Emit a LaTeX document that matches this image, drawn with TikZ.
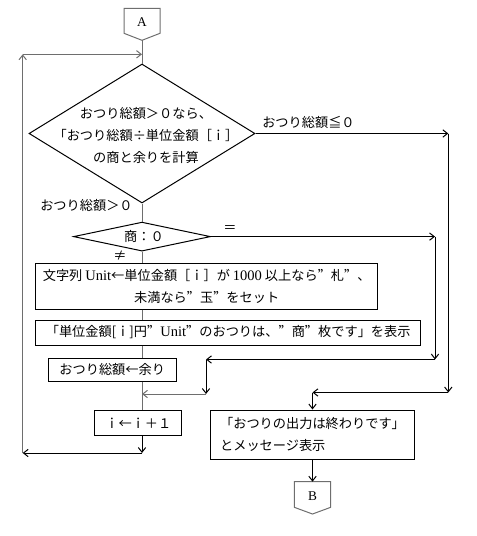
\documentclass[tikz,border=0pt]{standalone}
\usepackage{fontspec}
\setmainfont{Noto Sans CJK JP}
\newfontfamily\latserif[Scale=1.1]{Liberation Serif}
\newfontfamily\abfont{Liberation Serif}
\newfontfamily\fwqfont[RawFeature=+fwid]{Noto Sans CJK JP}
\newcommand{\fwquote}{{\fwqfont ”}}
\usetikzlibrary{arrows.meta,shapes.geometric}
\definecolor{flowgray}{RGB}{110,110,110}
\begin{document}
\begin{tikzpicture}[x=0.75pt,y=-0.75pt,
  font=\fontsize{9.9pt}{16.5pt}\selectfont,
  box/.style={draw=black, line width=0.75pt, rectangle, inner sep=0pt},
  dia/.style={draw=black, line width=0.75pt, diamond, inner sep=0pt},
  flow/.style={draw=flowgray, line width=0.75pt},
  line/.style={draw=black, line width=0.75pt},
  arr/.style={-{Straight Barb[length=3.5pt,width=5.5pt]}},
  lbl/.style={inner sep=0pt}]
\useasboundingbox (0,0) rectangle (476,536);

% connector A
\draw[flow] (124,8.3) -- (160,8.3) -- (160,33.3) -- (142,40.3) -- (124,33.3) -- cycle;
\node[lbl, font=\abfont\fontsize{10pt}{12pt}\selectfont] (A) at (142,22.5) {A};
\coordinate (Atip) at (142,40.3);

% main decision
\node[dia, minimum width=226*0.75pt, minimum height=139*0.75pt] (d1) at (142,133.5) {};
\node[lbl, align=center] (d1t) at (146,135) {おつり総額＞０なら、\\「おつり総額÷単位金額［ｉ］\\の商と余りを計算};

% second decision
\node[dia, minimum width=137*0.75pt, minimum height=29*0.75pt] (d2) at (142,236.6) {};
\node[lbl] (d2t) at (144,236.6) {商：０};

% boxes
\node[box, minimum width=342*0.75pt, minimum height=45.7*0.75pt, align=center] (b1) at (206.7,286.2)
  {文字列 {\latserif Unit}←単位金額［ｉ］が {\latserif 1000} 以上なら\fwquote 札\fwquote 、\\未満なら\fwquote 玉\fwquote をセット};
\node[box, minimum width=385*0.75pt, minimum height=25*0.75pt] (b2) at (228.2,332.5)
  {「単位金額[ｉ]円\fwquote{\latserif Unit}\fwquote のおつりは、\fwquote 商\fwquote 枚です」を表示};
\node[box, minimum width=127.7*0.75pt, minimum height=22.7*0.75pt] (b3) at (112.2,369.7) {おつり総額←余り};
\node[box, minimum width=86.7*0.75pt, minimum height=25.3*0.75pt] (b4) at (138.3,423.3) {ｉ←ｉ＋１};
\node[box, minimum width=203.6*0.75pt, minimum height=49*0.75pt, align=left] (b5) at (312.5,434.5)
  {「おつりの出力は終わりです」\\とメッセージ表示};

% connector B
\draw[flow] (294.3,481.7) -- (330.7,481.7) -- (330.7,507.3) -- (312.5,514) -- (294.3,507.3) -- cycle;
\node[lbl, font=\abfont\fontsize{10pt}{12pt}\selectfont] (B) at (312.5,496) {B};
\coordinate (Btop) at (312.5,481.7);

% labels
\node[lbl, anchor=west] (l1) at (262,122) {おつり総額≦０};
\node[lbl, anchor=west] (l2) at (40,205) {おつり総額＞０};
\node[lbl] (l3) at (230,229) {＝};
\node[lbl] (l4) at (120,255.5) {≠};

% coordinates
\coordinate (jt) at (142,54.3);
\coordinate (lt) at (22.7,54.3);
\coordinate (lb) at (22.7,453);
\coordinate (jb) at (142,453);
\coordinate (r1) at (448.3,133.5);
\coordinate (r2) at (448.3,392.5);
\coordinate (r3) at (312.5,392.5);
\coordinate (q1) at (435,236.6);
\coordinate (q2) at (435,359.5);
\coordinate (q3) at (206,359.5);
\coordinate (q4) at (206,394);
\coordinate (q5) at (142,394);

% main flow
\draw[flow] (Atip) -- (d1.north);
\draw[flow] (d1.south) -- (d2.north);
\draw[flow] (d2.south) -- (d2.south |- b1.north);
\draw[flow] (b1.south -| d2.south) -- (b2.north -| d2.south);
\draw[flow] (b2.south -| d2.south) -- (b3.north -| d2.south);
\draw[flow] (b3.south -| d2.south) -- (b4.north -| d2.south);
\draw[line, arr] (b4.south -| jb) -- (jb);
\draw[line, arr] (jb) -- (lb);
\draw[flow, arr] (lb) -- (lt);
\draw[flow, arr] (lt) -- (jt);

% exit branch
\draw[line, arr] (d1.east) -- (r1);
\draw[line, arr] (r1) -- (r2);
\draw[line, arr] (r2) -- (r3);
\draw[line, arr] (r3) -- (b5.north);
\draw[line, arr] (b5.south) -- (Btop);

% quotient zero branch
\draw[line, arr] (d2.east) -- (q1);
\draw[line, arr] (q1) -- (q2);
\draw[line, arr] (q2) -- (q3);
\draw[line, arr] (q3) -- (q4);
\draw[flow, arr] (q4) -- (q5);
\end{tikzpicture}
\end{document}
